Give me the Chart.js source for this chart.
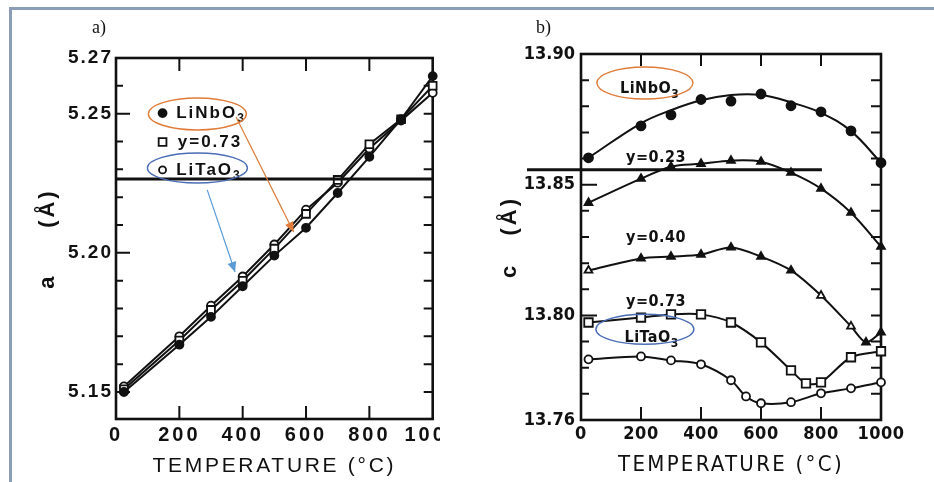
<!DOCTYPE html>
<html><head><meta charset="utf-8">
<script src="https://cdn.jsdelivr.net/npm/chart.js@4.4.1/dist/chart.umd.min.js"></script>
<style>
html,body{margin:0;padding:0;background:#fff;}
#wrap{position:relative;width:934px;height:482px;overflow:hidden;background:#fff;}
#ca{position:absolute;left:0;top:0;}
#cb{position:absolute;left:470px;top:0;}
#frame{position:absolute;left:9px;top:7px;width:960px;height:500px;border-top:3px solid #8c9dba;border-left:3px solid #8c9dba;pointer-events:none;}
.lab{position:absolute;font-family:'Liberation Serif',serif;font-size:18px;color:#111;line-height:18px;}
</style></head>
<body><div id="wrap">
<canvas id="ca" width="440" height="482"></canvas>
<canvas id="cb" width="464" height="482"></canvas>
<div class="lab" style="left:92px;top:18px;">a)</div>
<div class="lab" style="left:536px;top:18px;">b)</div>
<div id="frame"></div>
</div>
<script>
// ---------- data: panel a (lattice parameter a) ----------
const A_TEMP = [25, 200, 300, 400, 500, 600, 700, 800, 900, 1000];
const A_LINBO3 = [5.150, 5.167, 5.177, 5.188, 5.199, 5.209, 5.2215, 5.2345, 5.248, 5.2635];
const A_Y073  = [5.151, 5.1685, 5.1795, 5.190, 5.2015, 5.214, 5.2262, 5.239, 5.248, 5.260];
const A_LITAO3 = [5.152, 5.170, 5.181, 5.1915, 5.203, 5.2155, 5.2252, 5.2375, 5.2475, 5.2575];
const A_Y_TICKS = [5.15, 5.20, 5.25, 5.27];
const X_TICKS = [0, 200, 400, 600, 800, 1000];

// ---------- data: panel b (lattice parameter c) ----------
const B_TEMP = [25, 200, 300, 400, 500, 600, 700, 800, 900, 1000];
const B_LINBO3 = [13.8603, 13.8725, 13.8767, 13.8826, 13.8820, 13.8847, 13.8802, 13.8779, 13.8706, 13.8584];
const B_LINBO3_CURVE = [13.8603, 13.8735, 13.8785, 13.8823, 13.8843, 13.8843, 13.8815, 13.8775, 13.8705, 13.8584];
const B_Y023 = [13.8431, 13.8523, 13.8569, 13.8580, 13.8592, 13.8588, 13.8546, 13.8485, 13.8393, 13.8263];
const B_TEMP_Y040 = [25, 200, 300, 400, 500, 600, 700, 800, 900, 950, 1000];
const B_Y040 = [13.8172, 13.8218, 13.8225, 13.8233, 13.8260, 13.8225, 13.8172, 13.8076, 13.7958, 13.7897, 13.7935];
const B_TEMP_Y073 = [25, 200, 300, 400, 500, 600, 700, 750, 800, 900, 1000];
const B_Y073 = [13.7973, 13.7992, 13.8004, 13.8004, 13.7973, 13.7897, 13.7790, 13.7740, 13.7744, 13.7840, 13.7863];
const B_TEMP_LITAO3 = [25, 200, 300, 400, 500, 550, 600, 700, 800, 900, 1000];
const B_LITAO3 = [13.7832, 13.7843, 13.7828, 13.7813, 13.7752, 13.7690, 13.7664, 13.7668, 13.7702, 13.7721, 13.7744];
const B_Y_TICKS = [13.76, 13.80, 13.85, 13.90];

function pts(xs, ys) { return xs.map((x, i) => ({x: x, y: ys[i]})); }

const INK = '#111';

function drawPointShape(ctx, style, x, y, r, fill) {
  ctx.save();
  ctx.lineWidth = 1.8; ctx.strokeStyle = INK; ctx.fillStyle = fill ? INK : '#fff';
  ctx.beginPath();
  if (style === 'rect') { const s = Math.SQRT1_2 * r; ctx.rect(x - s, y - s, 2 * s, 2 * s); }
  else ctx.arc(x, y, r, 0, Math.PI * 2);
  ctx.fill(); ctx.stroke();
  ctx.restore();
}

function drawSubText(ctx, t, x, y, font, subFont) {
  ctx.font = font; ctx.textBaseline = 'middle'; ctx.textAlign = 'left';
  ctx.fillText(t.main, x, y);
  if (t.sub) {
    const w = ctx.measureText(t.main).width;
    ctx.font = subFont;
    ctx.fillText(t.sub, x + w, y + 6);
  }
}

// give ticks and titles their own letter spacing
function wrapLs(s, tickLs, titleLs) {
  if (s.__lsWrapped) return;
  s.__lsWrapped = true;
  const dl = s.drawLabels.bind(s), dt = s.drawTitle.bind(s);
  s.drawLabels = function (a) {
    const c = this.ctx, p = c.letterSpacing; c.letterSpacing = tickLs + 'px'; dl(a); c.letterSpacing = p;
  };
  s.drawTitle = function (a) {
    const c = this.ctx, p = c.letterSpacing; c.letterSpacing = titleLs + 'px'; dt(a); c.letterSpacing = p;
  };
}

const decoPlugin = {
  id: 'deco',
  beforeDatasetsDraw(chart, args, o) {
    const {ctx, chartArea: ca, scales: {x, y}} = chart;
    ctx.save();
    ctx.strokeStyle = INK; ctx.lineWidth = 2;
    ctx.beginPath();
    const lo = Math.ceil(y.min * 100 - 1e-6), hi = Math.floor(y.max * 100 + 1e-6);
    for (let k = lo; k <= hi; k++) {
      const v = k / 100, py = y.getPixelForValue(v);
      const major = o.yMajor.some(m => Math.abs(m - v) < 1e-6);
      ctx.moveTo(ca.left, py); ctx.lineTo(ca.left + (major ? o.lMaj : o.lMin), py);
      ctx.moveTo(ca.right, py); ctx.lineTo(ca.right - o.rLen, py);
    }
    o.xMajor.forEach(v => {
      const px = x.getPixelForValue(v);
      ctx.moveTo(px, ca.top); ctx.lineTo(px, ca.top + o.tLen);
      ctx.moveTo(px, ca.bottom); ctx.lineTo(px, ca.bottom - o.bLen);
    });
    ctx.stroke();
    ctx.lineWidth = 2.6;
    ctx.strokeRect(ca.left, ca.top, ca.right - ca.left, ca.bottom - ca.top);
    ctx.restore();
  },
  afterDatasetsDraw(chart, args, o) {
    const {ctx, scales: {x, y}} = chart;
    const X = v => x.getPixelForValue(v), Y = v => y.getPixelForValue(v);
    ctx.save();
    ctx.letterSpacing = (o.annLs || 0) + 'px';
    (o.hlines || []).forEach(h => {
      ctx.strokeStyle = INK; ctx.lineWidth = 3;
      ctx.beginPath(); ctx.moveTo(X(h.x0), Y(h.y)); ctx.lineTo(X(h.x1), Y(h.y)); ctx.stroke();
    });
    (o.markers || []).forEach(m => drawPointShape(ctx, m.style, X(m.x), Y(m.y), m.r, m.fill));
    ctx.fillStyle = INK;
    (o.texts || []).forEach(t => drawSubText(ctx, t, X(t.x), Y(t.y), o.textFont, o.subFont));
    (o.ellipses || []).forEach(e => {
      ctx.strokeStyle = e.color; ctx.lineWidth = 1.4;
      ctx.beginPath(); ctx.ellipse(X(e.x), Y(e.y), e.rx, e.ry, 0, 0, Math.PI * 2); ctx.stroke();
    });
    (o.arrows || []).forEach(a => {
      const x0 = X(a.x0), y0 = Y(a.y0), x1 = X(a.x1), y1 = Y(a.y1);
      ctx.strokeStyle = a.color; ctx.fillStyle = a.color; ctx.lineWidth = 1.2;
      ctx.beginPath(); ctx.moveTo(x0, y0); ctx.lineTo(x1, y1); ctx.stroke();
      const ang = Math.atan2(y1 - y0, x1 - x0), L = 10, W = 4.5;
      ctx.beginPath();
      ctx.moveTo(x1, y1);
      ctx.lineTo(x1 - L * Math.cos(ang) + W * Math.sin(ang), y1 - L * Math.sin(ang) - W * Math.cos(ang));
      ctx.lineTo(x1 - L * Math.cos(ang) - W * Math.sin(ang), y1 - L * Math.sin(ang) + W * Math.cos(ang));
      ctx.closePath(); ctx.fill();
    });
    ctx.restore();
  }
};

function lineDs(label, data, o) {
  return Object.assign({
    label, data, showLine: true, borderColor: INK, borderWidth: 2, tension: 0,
    pointBorderColor: INK, pointBorderWidth: 1.8, pointRadius: 4, pointStyle: 'circle',
    pointBackgroundColor: INK, clip: false, fill: false
  }, o);
}

function baseOptions(cfg) {
  return {
    responsive: false, animation: false, devicePixelRatio: 1,
    layout: {padding: {left: 0, top: cfg.top, right: cfg.right, bottom: 0}},
    plugins: {legend: {display: false}, tooltip: {enabled: false}, deco: cfg.deco},
    scales: {
      x: {
        type: 'linear', min: 0, max: 1000,
        grid: {display: false, drawTicks: false}, border: {display: false},
        afterBuildTicks: s => { s.ticks = X_TICKS.map(v => ({value: v})); },
        afterFit: s => {
          s.height = cfg.xH; s.paddingLeft = 0; s.paddingRight = 0;
          wrapLs(s, cfg.xTickLs, cfg.xTitleLs);
        },
        ticks: {autoSkip: false, maxRotation: 0, color: INK, padding: cfg.xPad,
          font: cfg.xTickFont, callback: v => String(v)},
        title: {display: true, text: 'TEMPERATURE (°C)', color: INK, font: cfg.titleFont,
          padding: {top: 0, bottom: cfg.xTitlePad}}
      },
      y: {
        type: 'linear', min: cfg.yMin, max: cfg.yMax,
        grid: {display: false, drawTicks: false}, border: {display: false},
        afterBuildTicks: s => { s.ticks = cfg.yTicks.map(v => ({value: v})); },
        afterFit: s => {
          s.width = cfg.yW; s.paddingTop = 0; s.paddingBottom = 0;
          wrapLs(s, cfg.yTickLs, cfg.yTitleLs);
        },
        ticks: {autoSkip: false, color: INK, padding: cfg.yPad, font: cfg.yTickFont,
          callback: v => Number(v).toFixed(2)},
        title: {display: true, text: cfg.yTitle, color: INK, font: cfg.yTitleFont,
          padding: {top: cfg.yTitlePad, bottom: 0}}
      }
    }
  };
}

// ---------------- panel a ----------------
new Chart(document.getElementById('ca'), {
  type: 'line',
  plugins: [decoPlugin],
  data: {datasets: [
    lineDs('LiNbO3', pts(A_TEMP, A_LINBO3), {pointRadius: 4}),
    lineDs('y=0.73', pts(A_TEMP, A_Y073), {pointStyle: 'rect', pointRadius: 5.5, pointBackgroundColor: '#fff'}),
    lineDs('LiTaO3', pts(A_TEMP, A_LITAO3), {pointRadius: 4, pointBackgroundColor: '#fff'})
  ]},
  options: baseOptions({
    top: 58, right: 5, xH: 63, yW: 116, yMin: 5.1403, yMax: 5.27, yTicks: A_Y_TICKS,
    xPad: 4, yPad: 3, xTitlePad: 3, yTitlePad: 35,
    xTickLs: 3, xTitleLs: 2.7, yTickLs: 2, yTitleLs: 3,
    xTickFont: {family: "'Liberation Sans', Arial, sans-serif", size: 20, weight: 'bold'},
    yTickFont: {family: "'Liberation Sans', Arial, sans-serif", size: 19, weight: 'bold'},
    titleFont: {family: "'Liberation Sans', Arial, sans-serif", size: 21, weight: 'normal'},
    yTitleFont: {family: "'Liberation Sans', Arial, sans-serif", size: 22, weight: 'bold'},
    yTitle: 'a     (Å)',
    deco: {
      annLs: 2,
      yMajor: [5.15, 5.20, 5.25], lMaj: 14, lMin: 7, rLen: 9, xMajor: [200, 400, 600, 800], tLen: 13, bLen: 13,
      hlines: [{x0: 0, x1: 1000, y: 5.2265}],
      markers: [
        {x: 147, y: 5.2502, style: 'circle', r: 4, fill: true},
        {x: 147, y: 5.2398, style: 'rect', r: 5.5, fill: false},
        {x: 147, y: 5.2298, style: 'circle', r: 3.5, fill: false}
      ],
      textFont: "bold 17px 'Liberation Sans', Arial, sans-serif",
      subFont: "bold 12px 'Liberation Sans', Arial, sans-serif",
      texts: [
        {x: 190, y: 5.2502, main: 'LiNbO', sub: '3'},
        {x: 195, y: 5.2398, main: 'y=0.73'},
        {x: 190, y: 5.2298, main: 'LiTaO', sub: '3'}
      ],
      ellipses: [
        {x: 257, y: 5.2499, rx: 49, ry: 16, color: '#e07b39'},
        {x: 257, y: 5.2305, rx: 50, ry: 15, color: '#4a6db5'}
      ],
      arrows: [
        {x0: 379, y0: 5.2488, x1: 561, y1: 5.2075, color: '#e07b39'},
        {x0: 288, y0: 5.2226, x1: 376, y1: 5.1931, color: '#5b9bd5'}
      ]
    }
  })
});

// ---------------- panel b ----------------
const Y040_FILL = ['#fff', INK, INK, INK, INK, INK, INK, '#fff', '#fff', INK, INK];
new Chart(document.getElementById('cb'), {
  type: 'line',
  plugins: [decoPlugin],
  data: {datasets: [
    lineDs('LiNbO3', pts(B_TEMP, B_LINBO3), {showLine: false, pointRadius: 4.5}),
    lineDs('LiNbO3 fit', pts(B_TEMP, B_LINBO3_CURVE), {pointRadius: 0, tension: 0.4}),
    lineDs('y=0.23', pts(B_TEMP, B_Y023), {pointStyle: 'triangle', pointRadius: 4.5, tension: 0.35}),
    lineDs('y=0.40', pts(B_TEMP_Y040, B_Y040), {pointStyle: 'triangle', pointRadius: 4.5, tension: 0.3, pointBackgroundColor: Y040_FILL}),
    lineDs('y=0.73', pts(B_TEMP_Y073, B_Y073), {pointStyle: 'rect', pointRadius: 6, pointBackgroundColor: '#fff', tension: 0.3}),
    lineDs('LiTaO3', pts(B_TEMP_LITAO3, B_LITAO3), {pointRadius: 4, pointBackgroundColor: '#fff', tension: 0.3})
  ]},
  options: baseOptions({
    top: 54, right: 53, xH: 62, yW: 111, yMin: 13.76, yMax: 13.90, yTicks: B_Y_TICKS,
    xPad: 4, yPad: 6, xTitlePad: 4, yTitlePad: 27,
    xTickLs: 0.5, xTitleLs: 2.3, yTickLs: 0, yTitleLs: 3,
    xTickFont: {family: "'DejaVu Sans Condensed', Roboto, sans-serif", size: 18, weight: 'bold'},
    yTickFont: {family: "'DejaVu Sans Condensed', Roboto, sans-serif", size: 18, weight: 'bold'},
    titleFont: {family: "'DejaVu Sans Condensed', Roboto, sans-serif", size: 22, weight: 'normal'},
    yTitleFont: {family: "'Liberation Sans', Arial, sans-serif", size: 22, weight: 'bold'},
    yTitle: 'c   (Å)',
    deco: {
      annLs: 0.5,
      yMajor: [13.80, 13.85, 13.90], lMaj: 16, lMin: 8, rLen: 10, xMajor: [200, 400, 600, 800], tLen: 12, bLen: 13,
      hlines: [{x0: -180, x1: 803, y: 13.8557}],
      textFont: "bold 16px 'DejaVu Sans Condensed', Roboto, sans-serif",
      subFont: "bold 12px 'DejaVu Sans Condensed', Roboto, sans-serif",
      texts: [
        {x: 130, y: 13.8865, main: 'LiNbO', sub: '3'},
        {x: 150, y: 13.8603, main: 'y=0.23'},
        {x: 150, y: 13.8298, main: 'y=0.40'},
        {x: 150, y: 13.8053, main: 'y=0.73'},
        {x: 145, y: 13.7916, main: 'LiTaO', sub: '3'}
      ],
      ellipses: [
        {x: 213, y: 13.8889, rx: 48, ry: 16, color: '#e07b39'},
        {x: 213, y: 13.7947, rx: 49, ry: 15, color: '#4a6db5'}
      ]
    }
  })
});
</script>
</body></html>
